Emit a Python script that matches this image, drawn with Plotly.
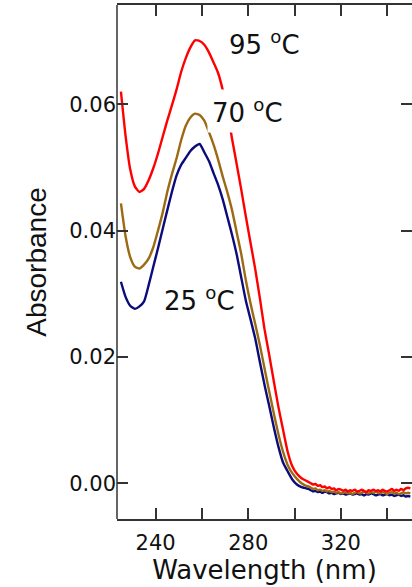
import plotly.graph_objects as go

# Wavelength grid (nm): 2 nm steps through the band, 1 nm steps in the baseline
wavelength = [225, 227, 229, 231, 233, 235, 237, 239, 241, 243, 245, 247, 249, 251,
              253, 255, 257, 259, 261, 263, 265, 267, 269, 271, 273, 275, 277, 279,
              281, 283, 285, 287, 289, 291, 293, 295, 297, 299, 301, 303, 305,
              306, 307, 308, 309, 310, 311, 312, 313, 314, 315, 316, 317, 318, 319,
              320, 321, 322, 323, 324, 325, 326, 327, 328, 329, 330, 331, 332, 333,
              334, 335, 336, 337, 338, 339, 340, 341, 342, 343, 344, 345, 346, 347,
              348, 349, 350]

abs_95 = [0.0620, 0.0550, 0.0497, 0.0470, 0.0461, 0.0466, 0.0480, 0.0499, 0.0522, 0.0548,
          0.0574, 0.0598, 0.0623, 0.0651, 0.0673, 0.0690, 0.0701, 0.0700, 0.0694, 0.0682,
          0.0666, 0.0649, 0.0622, 0.0588, 0.0545, 0.0505, 0.0464, 0.0421, 0.0380, 0.0339,
          0.0293, 0.0244, 0.0204, 0.0162, 0.0121, 0.0085, 0.0050, 0.0027, 0.0015, 0.0008,
          0.0004,
          0.0002, 0.0000, -0.0002, -0.0001, -0.0004, -0.0003, -0.0006, -0.0005, -0.0008,
          -0.0006, -0.0009, -0.0008, -0.0011, -0.0009, -0.0010, -0.0012, -0.0010, -0.0013,
          -0.0011, -0.0012, -0.0010, -0.0013, -0.0012, -0.0010, -0.0012, -0.0014, -0.0011,
          -0.0012, -0.0010, -0.0012, -0.0011, -0.0013, -0.0010, -0.0012, -0.0013, -0.0011,
          -0.0009, -0.0012, -0.0010, -0.0012, -0.0009, -0.0011, -0.0008, -0.0007, -0.0008]

abs_70 = [0.0443, 0.0391, 0.0358, 0.0343, 0.0340, 0.0346, 0.0356, 0.0374, 0.0400, 0.0428,
          0.0461, 0.0489, 0.0514, 0.0543, 0.0566, 0.0579, 0.0585, 0.0583, 0.0574, 0.0556,
          0.0536, 0.0512, 0.0485, 0.0460, 0.0432, 0.0397, 0.0362, 0.0320, 0.0284, 0.0252,
          0.0219, 0.0182, 0.0146, 0.0111, 0.0078, 0.0050, 0.0029, 0.0016, 0.0007, 0.0000,
          -0.0004,
          -0.0005, -0.0007, -0.0009, -0.0008, -0.0011, -0.0010, -0.0012, -0.0011, -0.0013,
          -0.0012, -0.0014, -0.0013, -0.0015, -0.0014, -0.0016, -0.0015, -0.0014, -0.0016,
          -0.0015, -0.0017, -0.0015, -0.0014, -0.0016, -0.0015, -0.0013, -0.0015, -0.0016,
          -0.0014, -0.0015, -0.0013, -0.0015, -0.0016, -0.0014, -0.0015, -0.0017, -0.0015,
          -0.0014, -0.0016, -0.0015, -0.0017, -0.0016, -0.0014, -0.0016, -0.0015, -0.0016]

abs_25 = [0.0319, 0.0295, 0.0281, 0.0276, 0.0280, 0.0288, 0.0314, 0.0343, 0.0372, 0.0402,
          0.0432, 0.0461, 0.0487, 0.0504, 0.0515, 0.0526, 0.0533, 0.0537, 0.0524, 0.0510,
          0.0491, 0.0472, 0.0449, 0.0421, 0.0393, 0.0362, 0.0325, 0.0288, 0.0259, 0.0229,
          0.0192, 0.0156, 0.0123, 0.0089, 0.0058, 0.0033, 0.0019, 0.0006, -0.0002, -0.0006,
          -0.0008,
          -0.0009, -0.0011, -0.0013, -0.0012, -0.0014, -0.0013, -0.0015, -0.0013, -0.0014,
          -0.0016, -0.0015, -0.0017, -0.0016, -0.0015, -0.0017, -0.0016, -0.0018, -0.0017,
          -0.0016, -0.0018, -0.0017, -0.0016, -0.0018, -0.0017, -0.0019, -0.0017, -0.0018,
          -0.0016, -0.0017, -0.0019, -0.0018, -0.0017, -0.0019, -0.0018, -0.0017, -0.0019,
          -0.0018, -0.0020, -0.0019, -0.0018, -0.0020, -0.0019, -0.0021, -0.0020, -0.0021]

x_tickvals = [240, 280, 320]
x_ticktext = ["240", "280", "320"]
y_tickvals = [0.00, 0.02, 0.04, 0.06]
y_ticktext = ["0.00", "0.02", "0.04", "0.06"]

series = [
    ("25 °C", abs_25, "#0b0b7c"),
    ("70 °C", abs_70, "#9b6a12"),
    ("95 °C", abs_95, "#ff0000"),
]

fig = go.Figure()
for name, values, color in series:
    fig.add_trace(go.Scatter(
        x=wavelength, y=values, mode="lines", name=name,
        line=dict(color=color, width=2.4, shape="spline", smoothing=0.5),
        showlegend=False,
    ))

tick_font = dict(family="DejaVu Sans", size=21, color="#111")
label_font = dict(family="DejaVu Sans", size=26, color="#111")

fig.update_layout(
    width=412, height=587,
    margin=dict(l=117, r=0, t=5, b=68),
    paper_bgcolor="white", plot_bgcolor="white",
    xaxis=dict(
        range=[223.3, 350.7], tickvals=x_tickvals, ticktext=x_ticktext,
        ticks="inside", ticklen=11, tickwidth=1.5, tickcolor="#333",
        minor=dict(dtick=20, tick0=240, ticks="inside", ticklen=11, tickwidth=1.5,
                   tickcolor="#333", showgrid=False),
        showline=True, linecolor="#333", linewidth=1.5, mirror="ticks",
        showgrid=False, zeroline=False, tickfont=tick_font, ticklabelstandoff=4,
        title=dict(text="Wavelength (nm)", standoff=4,
                   font=dict(family="DejaVu Sans", size=26, color="#111")),
    ),
    yaxis=dict(
        range=[-0.00565, 0.0757], tickvals=y_tickvals, ticktext=y_ticktext,
        ticks="inside", ticklen=11, tickwidth=1.5, tickcolor="#333",
        showline=False, mirror="ticks",
        showgrid=False, zeroline=False, tickfont=tick_font,
        title=dict(text="Absorbance", standoff=14,
                   font=dict(family="Liberation Sans", size=28, color="#111")),
    ),
    shapes=[dict(type="line", xref="paper", yref="paper", x0=0, x1=0, y0=0, y1=1,
                 line=dict(color="#333", width=1.5))],
    annotations=[
        dict(x=270.8, y=0.0697, xref="x", yref="y", xanchor="left", yanchor="middle",
             text="95 <sup>o</sup>C", showarrow=False, font=label_font),
        dict(x=262.2, y=0.0590, xref="x", yref="y", xanchor="left", yanchor="middle",
             text="70 <sup>o</sup>C", showarrow=False, font=label_font,
             bgcolor="white", borderpad=4),
        dict(x=242.6, y=0.0292, xref="x", yref="y", xanchor="left", yanchor="middle",
             text="25 <sup>o</sup>C", showarrow=False, font=label_font),
    ],
)

fig.write_html("out.html")
